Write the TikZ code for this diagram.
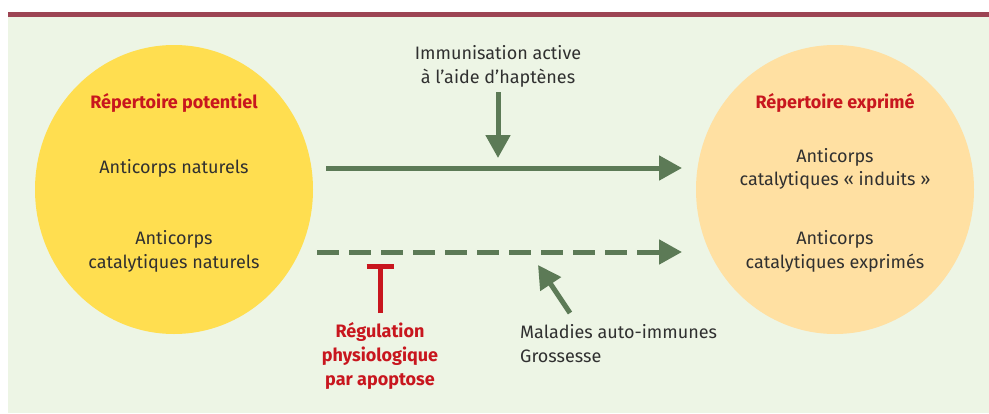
\documentclass[tikz,border=0pt]{standalone}
\usepackage{fontspec}
\setmainfont{Fira Sans}
\usetikzlibrary{arrows.meta,shapes.geometric}
\definecolor{bgc}{HTML}{EDF5E5}
\definecolor{barc}{HTML}{9C4453}
\definecolor{yelc}{HTML}{FFDE50}
\definecolor{peachc}{HTML}{FFE0A2}
\definecolor{arrc}{HTML}{5C7A56}
\definecolor{redc}{HTML}{C8161E}
\definecolor{txtc}{HTML}{303030}
\tikzset{
  circ/.style={ellipse, minimum width=278pt, minimum height=289pt, inner sep=0pt},
  lbl/.style={text=txtc, font=\fontsize{18}{23.5}\selectfont, align=center, inner sep=0pt},
  ttl/.style={text=redc, font=\fontsize{18}{24}\selectfont\bfseries, align=center, inner sep=0pt},
  garrow/.style={draw=arrc, line width=5pt, -{Triangle[length=23pt,width=24pt]}},
}
\begin{document}
\begin{tikzpicture}[x=1pt,y=-1pt]
\useasboundingbox (0,0) rectangle (989,413);
\fill[white] (0,0) rectangle (989,413);
\fill[barc] (8,12) rectangle (989,17);
\fill[bgc] (8,17) rectangle (989,413);

\node[circ, fill=yelc] (pot) at (174,189.5) {};
\node[circ, fill=peachc] (exp) at (835,189.5) {};

\node[ttl] (potT) at (174,103) {Répertoire potentiel};
\node[lbl] (potA) at (174,168) {Anticorps naturels};
\node[lbl] (potB) at (174,251.5) {Anticorps\\catalytiques naturels};

\node[ttl] (expT) at (835,103) {Répertoire exprimé};
\node[lbl] (expA) at (835,169) {Anticorps\\catalytiques «~induits~»};
\node[lbl] (expB) at (835,251.5) {Anticorps\\catalytiques exprimés};

\node[lbl] (imm) at (498,66.5) {Immunisation active\\à l’aide d’haptènes};
\node[ttl, align=center] (reg) at (380,356) {Régulation\\physiologique\\par apoptose};
\node[lbl, align=left, anchor=west] (mal) at (520,343.5) {Maladies auto-immunes\\Grossesse};

\coordinate (s1) at (326,168);
\coordinate (e1) at (682,168);
\coordinate (s2) at (317,252);
\coordinate (e2) at (682,252);
\coordinate (d0) at (498,92);
\coordinate (d1) at (498,158);
\coordinate (t0) at (380,313);
\coordinate (t1) at (380,264);
\coordinate (m0) at (570,313);
\coordinate (m1) at (538,265);

\draw[garrow] (s1) -- (e1);
\draw[garrow, dash pattern=on 22pt off 10pt] (s2) -- (e2);
\draw[garrow] (d0) -- (d1);
\draw[garrow] (m0) -- (m1);
\draw[draw=redc, line width=5pt, -{Bar[width=27pt]}] (t0) -- (t1);
\end{tikzpicture}
\end{document}
